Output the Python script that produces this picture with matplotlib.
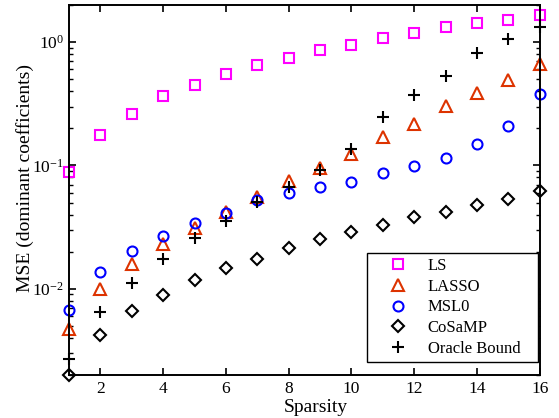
import matplotlib
matplotlib.use("Agg")
import matplotlib.pyplot as plt
from matplotlib.ticker import LogLocator, NullFormatter

plt.rcParams['font.family'] = ['Liberation Serif', 'DejaVu Serif']
plt.rcParams['mathtext.fontset'] = 'stix'

sparsity = list(range(1, 17))
ls_mse = [0.089, 0.175, 0.263, 0.363, 0.449, 0.555, 0.649, 0.748, 0.863, 0.953,
          1.09, 1.19, 1.32, 1.43, 1.51, 1.67]
lasso_mse = [0.00471, 0.00995, 0.0159, 0.0231, 0.0309, 0.042, 0.0557, 0.0748, 0.0948, 0.124,
             0.171, 0.217, 0.301, 0.389, 0.493, 0.668]
msl0_mse = [0.00672, 0.0137, 0.0203, 0.0269, 0.0344, 0.041, 0.0525, 0.0594, 0.0664, 0.0738,
            0.0868, 0.0984, 0.115, 0.149, 0.210, 0.377]
cosamp_mse = [0.00201, 0.00424, 0.00659, 0.00889, 0.0118, 0.0147, 0.0176, 0.0213, 0.0252, 0.0287,
              0.0331, 0.0380, 0.0417, 0.0475, 0.0534, 0.0620]
oracle_mse = [0.0027, 0.00647, 0.0112, 0.0173, 0.0258, 0.0356, 0.0508, 0.067, 0.092, 0.135,
              0.245, 0.375, 0.535, 0.82, 1.06, 1.32]
labels = ['LS', 'LASSO', 'MSL0', 'CoSaMP', 'Oracle Bound']

fig = plt.figure(figsize=(5.59, 4.18), dpi=100)
ax = fig.add_axes([0.1234, 0.1029, 0.8421, 0.8851])

ms = 7.2
mew = 1.5
ax.plot(sparsity, ls_mse, linestyle='none', marker='s', ms=ms, mfc='none', mec='#FF00FF', mew=mew, label=labels[0], clip_on=False)
ax.plot(sparsity, lasso_mse, linestyle='none', marker='^', ms=ms + 0.8, mfc='none', mec='#DD3300', mew=mew, label=labels[1], clip_on=False)
ax.plot(sparsity, msl0_mse, linestyle='none', marker='o', ms=ms, mfc='none', mec='#0000FF', mew=mew, label=labels[2], clip_on=False)
ax.plot(sparsity, cosamp_mse, linestyle='none', marker='D', ms=ms - 1.2, mfc='none', mec='black', mew=mew, label=labels[3], clip_on=False)
ax.plot(sparsity, oracle_mse, linestyle='none', marker='+', ms=ms + 1.5, mec='black', mew=mew, label=labels[4], clip_on=False)

ax.set_yscale('log')
ax.set_xlim(1, 16)
ax.set_ylim(2e-3, 2)
ax.set_xticks(range(2, 17, 2))
ax.yaxis.set_major_locator(LogLocator(base=10, numticks=10))
ax.yaxis.set_minor_locator(LogLocator(base=10, subs=range(2, 10), numticks=20))
ax.yaxis.set_minor_formatter(NullFormatter())

for s in ax.spines.values():
    s.set_linewidth(1.4)
ax.tick_params(which='both', direction='in', top=True, right=True, labelsize=12.5)
ax.tick_params(axis='x', which='major', pad=4.5)
ax.tick_params(which='major', length=5, width=1.2)
ax.tick_params(which='minor', length=3, width=1.0)

ax.set_xlabel('Sparsity', fontsize=14)
ax.set_ylabel('MSE (dominant coefficients)', fontsize=14)
ax.xaxis.set_label_coords(0.525, -0.064)
ax.yaxis.set_label_coords(-0.074, 0.532)

leg = ax.legend(loc='lower right', fontsize=12, frameon=True, fancybox=False,
                edgecolor='black', framealpha=1, borderaxespad=0.0,
                bbox_to_anchor=(0.6325, 0.036, 0.364, 0.3), mode='expand',
                handletextpad=0.25, labelspacing=0.28, borderpad=0.3, handlelength=3.1)
leg.get_frame().set_linewidth(1.0)

fig.savefig('out.png', dpi=100)
